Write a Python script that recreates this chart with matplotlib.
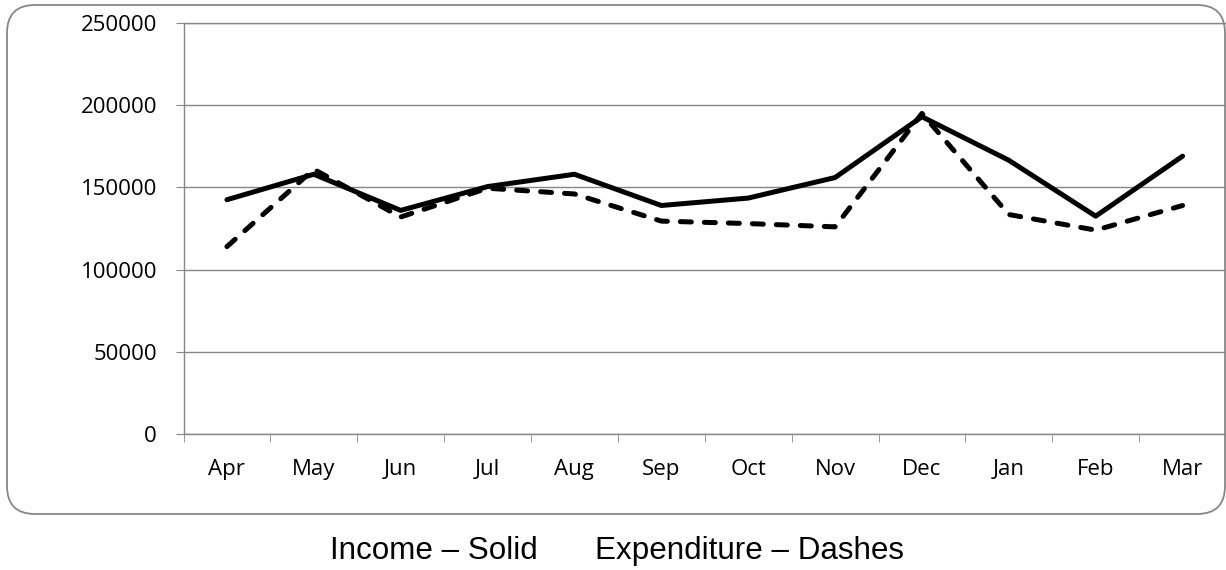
import numpy as np
import matplotlib
matplotlib.use("Agg")
import matplotlib.pyplot as plt
from matplotlib.patches import FancyBboxPatch

months = ["Apr", "May", "Jun", "Jul", "Aug", "Sep", "Oct", "Nov", "Dec", "Jan", "Feb", "Mar"]
income = [142500, 158000, 136000, 150500, 158000, 139000, 143500, 156000, 193000, 166500, 132500, 169000]
expenditure = [114000, 161000, 132000, 149500, 146000, 129500, 128000, 126000, 195000, 133500, 124000, 139000]
yticks = [0, 50000, 100000, 150000, 200000, 250000]

GREY = "#878787"
W, H = 1226, 570

fig = plt.figure(figsize=(W / 100, H / 100), dpi=100)
ax = fig.add_axes([183.5 / W, 1 - 434 / H, 1 - 183.5 / W, (434 - 23) / H])

x = np.arange(len(months))
ax.plot(x, income, color="black", lw=3.6, solid_capstyle="round", solid_joinstyle="round")
ax.plot(x, expenditure, color="black", lw=3.6, dashes=(2.2, 2.6),
        dash_capstyle="round", dash_joinstyle="round")

ax.set_xlim(-0.5, len(months) - 0.5)
ax.set_ylim(0, 250000)
ax.set_yticks(yticks)
ax.set_yticklabels([str(v) for v in yticks])
ax.set_xticks(x)
ax.set_xticklabels(months)
ax.set_xticks(np.arange(-0.5, len(months)), minor=True)
ax.yaxis.grid(True, color=GREY, lw=1.0)
ax.set_axisbelow(True)

for s in ["right"]:
    ax.spines[s].set_visible(False)
for s in ["left", "bottom", "top"]:
    ax.spines[s].set_color(GREY)
    ax.spines[s].set_linewidth(1.0)

ax.tick_params(axis="y", length=6, color=GREY, pad=13, labelsize=16)
ax.tick_params(axis="x", which="major", length=0, pad=18, labelsize=16)
ax.tick_params(axis="x", which="minor", length=6, color=GREY)
for lab in ax.get_xticklabels() + ax.get_yticklabels():
    lab.set_fontfamily("Open Sans")

# rounded chart border
box = FancyBboxPatch((0.07, 0.56), 12.18, 5.09,
                     boxstyle="round,pad=0,rounding_size=0.28",
                     transform=fig.dpi_scale_trans, fill=False,
                     edgecolor=GREY, lw=1.3, clip_on=False)
fig.patches.append(box)

fig.text(330 / W, 1 - 551 / H, "Income \u2013 Solid", fontsize=22.6,
         family="Liberation Sans", ha="left", va="center")
fig.text(595 / W, 1 - 551 / H, "Expenditure \u2013 Dashes", fontsize=22.6,
         family="Liberation Sans", ha="left", va="center")

fig.savefig("out.png", dpi=100)
